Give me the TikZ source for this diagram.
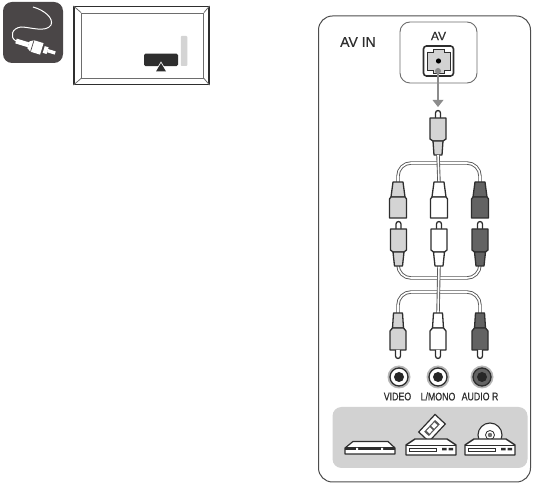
\documentclass[tikz,border=0pt]{standalone}
\usepackage{fontspec}
\setmainfont{Liberation Sans}
\newfontfamily\semibold[FakeBold=0.35]{Liberation Sans}
\definecolor{ink}{HTML}{2E2E2E}
\definecolor{iconbg}{HTML}{4A4647}
\definecolor{lightplug}{HTML}{D4D4D4}
\definecolor{darkplug}{HTML}{636363}
\definecolor{panelgrey}{HTML}{D2D2D2}
\tikzset{
  cable/.style={draw=ink!80,double=white,double distance=1.6pt,line width=.9pt,rounded corners=13pt},
  outline/.style={draw=ink,line width=1.3pt,line join=round},
  lbl/.style={inner sep=0pt,font=\semibold\fontsize{11}{11}\selectfont,text=ink},
  plugdown/.pic={
    \path[outline,fill=#1] (-4.5,0)--(4.5,0)--(5.5,15)--(-5.5,15)--cycle;
    \path[outline,fill=#1] (-5.5,15)--(5.5,15)--(8,18)--(8,37)--(-8,37)--(-8,18)--cycle;
    \path[outline,fill=white] (-2.5,37)--(-2.5,43) arc[start angle=180,end angle=0,radius=2.5]--(2.5,37);
  },
  plugup/.pic={
    \path[outline,fill=white] (-2.5,0)--(-2.5,-5) arc[start angle=180,end angle=360,radius=2.5]--(2.5,0);
    \path[outline,fill=#1] (-8,0)--(8,0)--(8,21)--(5.5,23)--(-5.5,23)--(-8,21)--cycle;
    \path[outline,fill=#1] (-5.5,23)--(5.5,23)--(4,37)--(-4,37)--cycle;
  },
  plugflip/.pic={
    \path[outline,fill=#1] (-5,0)--(5,0)--(7,15)--(-7,15)--cycle;
    \path[outline,fill=#1] (-8.5,17)--(-7,15)--(7,15)--(8.5,17)--(8.5,36)--(-8.5,36)--cycle;
  },
  jack/.pic={
    \fill[ink!35] (0,0) circle[radius=11.5];
    \fill[#1,draw=ink,line width=1.3pt] (0,0) circle[radius=9];
    \fill[black!85] (0,0) circle[radius=5];
  },
  dev/.pic={
    \path[draw=ink,line width=1.4pt,fill=white,line join=round] (-16,-8)--(16,-8)--(25,-2)--(25,8)--(-25,8)--(-25,-2)--cycle;
    \draw[ink,line width=.9pt] (-25,-2)--(25,-2);
    \draw[ink,line width=.9pt,fill=white] (-22,1) rectangle (5,4.5);
    \fill[ink] (11,1) rectangle (15.5,3.5) (17.5,1) rectangle (22,3.5);
  },
}
\begin{document}
\begin{tikzpicture}[x=1pt,y=-1pt]
\useasboundingbox (0,0) rectangle (550,489);
% top-left icon
\node[draw=none,fill=iconbg,rounded corners=9pt,minimum width=60pt,minimum height=61pt,inner sep=0pt] (icon) at (33,32.5) {};
\coordinate (icona) at (33,7);
\coordinate (iconb) at (16,41);
\draw[white,line width=1pt] (icona) .. controls (44,10) and (54,18) .. (51,25) .. controls (46,33) and (30,27) .. (21,27) .. controls (12,28) and (9,37) .. (iconb);
\begin{scope}[shift={(16,41)},rotate=-17]
\fill[white] (0,-2.5) rectangle (13,2.5);
\fill[white] (13,-3.5) -- (17,-6) -- (27,-6) -- (27,6) -- (17,6) -- (13,3.5) -- cycle;
\fill[white] (29,-3.5) rectangle (33,3.5);
\fill[white] (33,-1.7) rectangle (41,1.7);
\draw[iconbg,line width=.7pt] (17,-6)--(17,6);
\end{scope}
% TV
\node[draw=ink,line width=1.2pt,fill=white,minimum width=135pt,minimum height=78pt,inner sep=0pt] (tv) at (141.5,45.5) {};
\node[draw=ink!70,line width=.9pt,minimum width=122pt,minimum height=65pt,inner sep=0pt] (tvin) at (142.5,45.5) {};
\draw[ink!70,line width=.8pt] (tv.north west)--(tvin.north west) (tv.north east)--(tvin.north east) (tv.south west)--(tvin.south west) (tv.south east)--(tvin.south east);
\node[fill=ink,rounded corners=1.5pt,minimum width=34pt,minimum height=12.5pt,inner sep=0pt] (tvbar) at (161,60) {};
\node[fill=lightplug,rounded corners=.8pt,minimum width=6.5pt,minimum height=30pt,inner sep=0pt] (tvside) at (184,51) {};
\fill[white] (161,61.5)--(154,73)--(168,73)--cycle;
\fill[ink] (161,63)--(156,71.5)--(166,71.5)--cycle;
% panel
\node[draw=ink!85,line width=1pt,fill=white,rounded corners=14pt,minimum width=212pt,minimum height=466pt,inner sep=0pt] (panel) at (424.5,249) {};
\node[anchor=west,inner sep=0pt,font=\semibold\fontsize{14}{14}\selectfont,text=ink] (avin) at (340,42) {AV IN};
\node[draw=ink!70,line width=.9pt,rounded corners=10pt,minimum width=77pt,minimum height=61pt,inner sep=0pt] (avbox) at (438.5,52.5) {};
\node[inner sep=0pt,font=\semibold\fontsize{12}{12}\selectfont,text=ink] (avlbl) at (438.5,36) {AV};
\node[draw=ink,line width=1.6pt,rounded corners=3pt,minimum width=30pt,minimum height=30pt,inner sep=0pt] (port) at (438.5,61) {};
\path[draw=ink,line width=.8pt,fill=panelgrey] (433,49.5)--(444,49.5)--(444,52)--(450,52)--(450,70)--(444,70)--(444,73)--(433,73)--(433,70)--(427,70)--(427,52)--(433,52)--cycle;
\fill[black] (438.5,61) circle[radius=2.6];
\fill[ink!55] (438,71) circle[radius=3];
\coordinate (arrowfrom) at (438,71);
\draw[ink!55,line width=1.8pt] (arrowfrom)--(438,100);
\fill[ink!55] (432.5,100)--(443.5,100)--(438,107)--cycle;
% upper single plug
\coordinate (topend) at (438,155);
\path[outline,fill=white] (435.5,118)--(435.5,113) arc[start angle=180,end angle=360,radius=2.5]--(440.5,118);
\path[outline,fill=lightplug] (430,118)--(446,118)--(446,139)--(443,141)--(433,141)--(430,139)--cycle;
\path[outline,fill=lightplug] (433,141)--(443,141)--(442,155)--(434,155)--cycle;
% cables top
\coordinate (ta) at (398,182); \coordinate (tb) at (439,182); \coordinate (tc) at (480,182);
\draw[cable] (ta)--(398,163)--(480,163)--(tc);
\draw[cable,rounded corners=0pt] (topend)--(tb);
% cables of middle pair
\coordinate (ma) at (398,266); \coordinate (mb) at (439,266); \coordinate (mc) at (480,266);
\draw[cable] (ma)--(398,278)--(480,278)--(mc);
\coordinate (ba) at (398,313); \coordinate (bb) at (438,313); \coordinate (bc) at (480,313);
\draw[cable] (ba)--(398,292)--(480,292)--(bc);
\draw[cable,rounded corners=0pt] (mb)--(bb);
% plugs
\path (ta) pic {plugflip=lightplug};
\path (tb) pic {plugflip=white};
\path (tc) pic {plugflip=darkplug};
\path (398.5,229) pic {plugup=lightplug};
\path (439,229) pic {plugup=white};
\path (480,229) pic {plugup=darkplug};
\path (ba) pic {plugdown=lightplug};
\path (bb) pic {plugdown=white};
\path (bc) pic {plugdown=darkplug};
% jacks
\path (399,377) pic {jack=white};
\path (438,377) pic {jack=white};
\path (482,377) pic {jack=darkplug};
\node[lbl] (l1) at (397.5,396.5) {\scalebox{.8}[1]{VIDEO}};
\node[lbl] (l2) at (438,396.5) {\scalebox{.8}[1]{L/MONO}};
\node[lbl] (l3) at (480,396.5) {\scalebox{.8}[1]{AUDIO R}};
% device band
\node[fill=panelgrey,rounded corners=9pt,minimum width=195pt,minimum height=61pt,inner sep=0pt] (band) at (430,437.5) {};
% disc
\fill[white,draw=ink,line width=1.1pt] (490,435) circle[radius=12];
\draw[ink,line width=.8pt] (490,435) circle[radius=4.5];
\fill[ink!70] (490,435) circle[radius=2.2];
% tape
\begin{scope}[shift={(432,428)},rotate=47]
\draw[ink,line width=1.2pt,fill=white] (-12,-7) rectangle (12,7);
\fill[ink!80] (-8,-3.2) rectangle (8,3.2);
\fill[white] (-5.8,-2) rectangle (-1,2) (1,-2) rectangle (5.8,2);
\end{scope}
\path (431,447) pic {dev};
\path (490,447) pic {dev};
% flat player
\path[draw=ink,line width=1.2pt,fill=white,line join=round] (353,441.5)--(388,441.5)--(395,448)--(395,454)--(345,454)--(345,448)--cycle;
\fill[ink] (345,447.5) rectangle (395,450.5);
\fill[white] (356,448) rectangle (358,450) (381,448) rectangle (383,450);
\end{tikzpicture}
\end{document}
